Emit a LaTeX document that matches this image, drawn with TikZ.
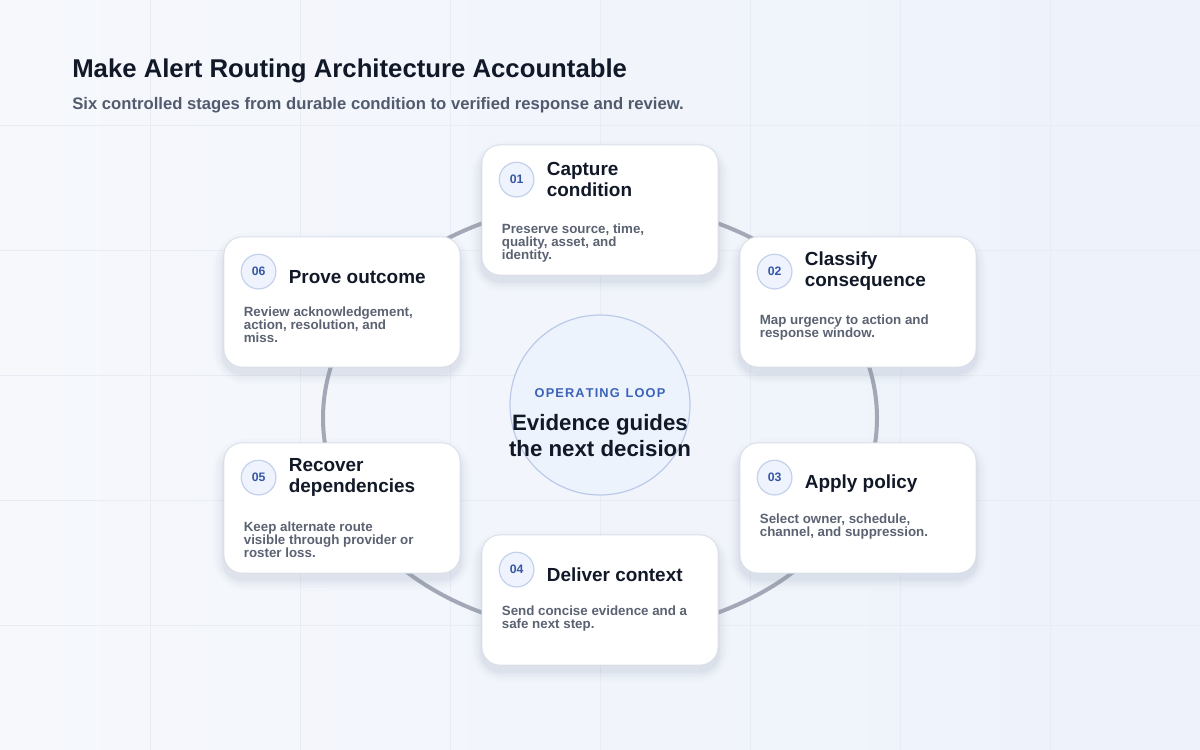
\documentclass[tikz,border=0pt]{standalone}
\usepackage{fontspec}
\setmainfont{Liberation Sans}
\usetikzlibrary{calc}
\definecolor{bgA}{HTML}{F6F8FC}
\definecolor{bgB}{HTML}{EDF2FB}
\definecolor{gridc}{HTML}{E8ECF4}
\definecolor{ringc}{HTML}{A2A8B5}
\definecolor{ink}{HTML}{111827}
\definecolor{sub}{HTML}{525B6E}
\definecolor{bodyc}{HTML}{5B6272}
\definecolor{cardedge}{HTML}{DCE1EA}
\definecolor{badgefill}{HTML}{EEF3FD}
\definecolor{badgeedge}{HTML}{C3D1EC}
\definecolor{badgetext}{HTML}{3657A6}
\definecolor{hubfill}{HTML}{EDF3FC}
\definecolor{hubedge}{HTML}{BACAE8}
\definecolor{hubtext}{HTML}{3D63B8}
\definecolor{shadowc}{HTML}{8A94B0}
\tikzset{
  card/.style={draw=cardedge, line width=0.6pt, fill=white, rounded corners=13.5pt,
    minimum width=177pt, minimum height=97.5pt, inner sep=0pt},
  badge/.style={circle, draw=badgeedge, line width=0.9pt, fill=badgefill,
    minimum size=26pt, inner sep=0pt, text=badgetext,
    font=\fontsize{9.2}{10}\selectfont\bfseries},
  ctitle/.style={anchor=west, align=left, inner sep=0pt, text=ink,
    font=\fontsize{14.2}{15.75}\selectfont\bfseries},
  cbody/.style={anchor=north west, align=left, inner sep=0pt, text=bodyc,
    font=\fontsize{10}{9.75}\selectfont\bfseries},
}
\newcommand{\softshadow}[1]{%
  \foreach \s/\o in {12/0.02,9/0.03,6/0.04,3.5/0.05,1.5/0.06}{%
    \fill[shadowc, opacity=\o, rounded corners=13.5pt+\s pt]
      ($(#1.south west)+(-\s*0.9,\s*0.9+6)$) rectangle ($(#1.north east)+(\s*0.9,-\s*0.9+7)$);
  }%
}
\newcommand{\ls}{\kern0.85pt}
\begin{document}
\begin{tikzpicture}[x=0.75pt,y=-0.75pt]
\useasboundingbox (0,0) rectangle (1200,750);
\shade[left color=bgA, right color=bgB] (0,0) rectangle (1200,750);
\foreach \x in {150,300,...,1050} \draw[gridc, line width=0.6pt] (\x,0) -- (\x,750);
\foreach \y in {125,250,...,625} \draw[gridc, line width=0.6pt] (0,\y) -- (1200,\y);

% title
\node[anchor=west, inner sep=0pt, text=ink, font=\fontsize{19.3}{22}\selectfont\bfseries] (title) at (72,70.5) {Make Alert Routing Architecture Accountable};
\node[anchor=west, inner sep=0pt, text=sub, font=\fontsize{12.5}{14}\selectfont\bfseries] (subtitle) at (72,105.5) {Six controlled stages from durable condition to verified response and review.};

% ring
\coordinate (hubc) at (600,405);
\coordinate (ringc) at (600,418);
\draw[ringc, line width=3pt] (ringc) ellipse[x radius=207.75pt, y radius=161.25pt];

% cards
\node[card] (c1) at (600,210) {};
\node[card] (c2) at (858,302) {};
\node[card] (c3) at (858,508) {};
\node[card] (c4) at (600,600) {};
\node[card] (c5) at (342,508) {};
\node[card] (c6) at (342,302) {};
\foreach \c in {c1,c2,c3,c4,c5,c6}{\softshadow{\c}}
\foreach \c in {c1,c2,c3,c4,c5,c6}{\node[card] at (\c) {};}

% card 01
\node[badge] (b1) at ($(c1.north west)+(35,35)$) {01};
\node[ctitle] (t1) at ($(c1.north west)+(65,35)$) {Capture\\condition};
\node[cbody] (d1) at ($(c1.north west)+(20,79)$) {Preserve source, time,\\quality, asset, and\\identity.};
% card 02
\node[badge] (b2) at ($(c2.north west)+(35,35)$) {02};
\node[ctitle] (t2) at ($(c2.north west)+(65,35)$) {Classify\\consequence};
\node[cbody] (d2) at ($(c2.north west)+(20,78)$) {Map urgency to action and\\response window.};
% card 03
\node[badge] (b3) at ($(c3.north west)+(35,35)$) {03};
\node[ctitle] (t3) at ($(c3.north west)+(65,41)$) {Apply policy};
\node[cbody] (d3) at ($(c3.north west)+(20,71)$) {Select owner, schedule,\\channel, and suppression.};
% card 04
\node[badge] (b4) at ($(c4.north west)+(35,35)$) {04};
\node[ctitle] (t4) at ($(c4.north west)+(65,40)$) {Deliver context};
\node[cbody] (d4) at ($(c4.north west)+(20,71)$) {Send concise evidence and a\\safe next step.};
% card 05
\node[badge] (b5) at ($(c5.north west)+(35,35)$) {05};
\node[ctitle] (t5) at ($(c5.north west)+(65,35)$) {Recover\\dependencies};
\node[cbody] (d5) at ($(c5.north west)+(20,79)$) {Keep alternate route\\visible through provider or\\roster loss.};
% card 06
\node[badge] (b6) at ($(c6.north west)+(35,35)$) {06};
\node[ctitle] (t6) at ($(c6.north west)+(65,40)$) {Prove outcome};
\node[cbody] (d6) at ($(c6.north west)+(20,70)$) {Review acknowledgement,\\action, resolution, and\\miss.};

% hub
\node[circle, draw=hubedge, line width=0.9pt, fill=hubfill, minimum size=135pt, inner sep=0pt] (hub) at (hubc) {};
\node[inner sep=0pt, text=hubtext, font=\fontsize{9.6}{11}\selectfont\bfseries] (hl) at (600,393) {O\ls P\ls E\ls R\ls A\ls T\ls I\ls N\ls G\ls\ \ls L\ls O\ls O\ls P};
\node[inner sep=0pt, text=ink, align=center, font=\fontsize{16.7}{19.5}\selectfont\bfseries] (hm) at (600,436) {Evidence guides\\the next decision};
\end{tikzpicture}
\end{document}
